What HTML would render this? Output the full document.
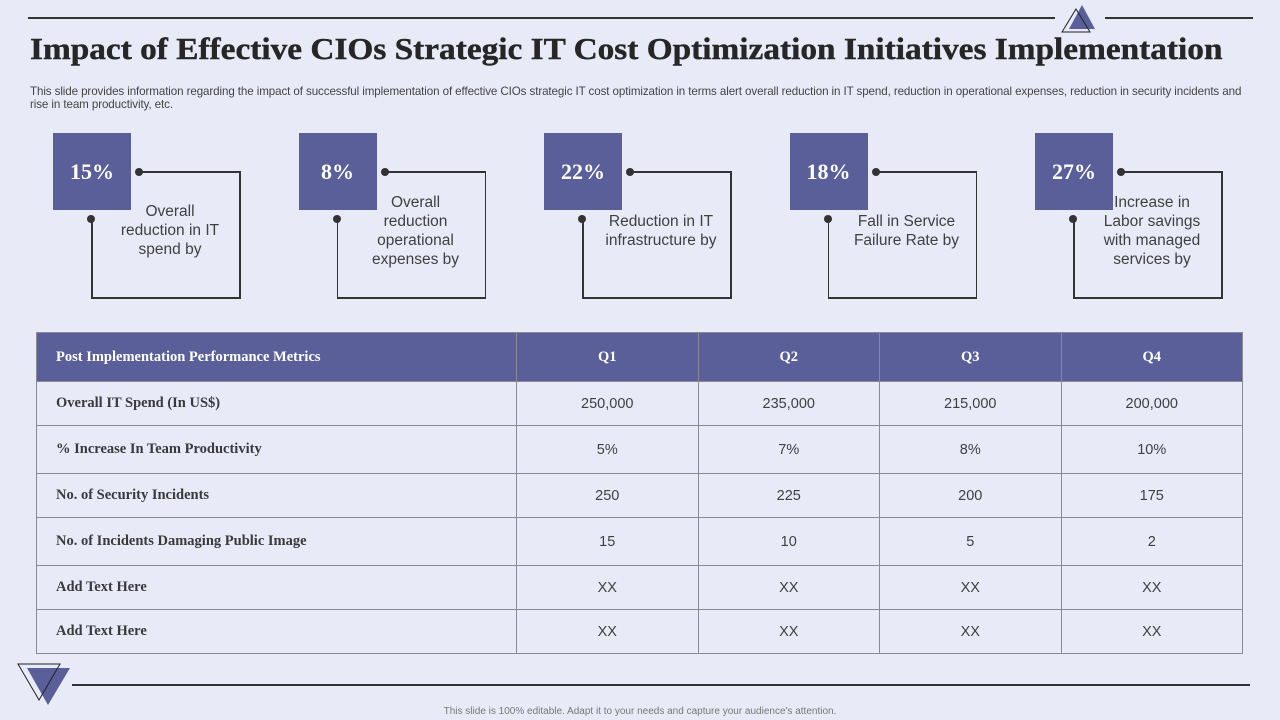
<!DOCTYPE html>
<html><head><meta charset="utf-8"><style>
body{margin:0;width:1280px;height:720px;background:#e8eaf7;position:relative;overflow:hidden;font-family:"Liberation Sans",sans-serif;}
.abs{position:absolute}
h1{position:absolute;left:30px;top:31px;margin:0;font-family:"Liberation Serif",serif;font-weight:bold;font-size:31px;color:#262626;white-space:nowrap;transform:scaleX(1.075);transform-origin:left top;-webkit-text-stroke:0.4px #262626}
.desc{position:absolute;left:30px;top:85px;width:1212px;font-size:11.6px;line-height:13px;color:#444;letter-spacing:-0.1px}
.sq{position:absolute;width:78px;height:77px;background:#5a5f9a;color:#fff;font-family:"Liberation Serif",serif;font-weight:bold;font-size:22px;display:flex;align-items:center;justify-content:center}
.vline{position:absolute;width:1.5px;background:#333}
.hline{position:absolute;height:1.5px;background:#333}
.dot{position:absolute;width:8px;height:8px;border-radius:50%;background:#333}
.lbl{position:absolute;width:120px;text-align:center;font-size:15.5px;line-height:19px;color:#404040}
table{position:absolute;left:36px;top:332px;border-collapse:collapse;width:1207px}
td,th{border:1px solid #8a8a95;font-size:14.5px;color:#404040;text-align:center;padding:0}
th{background:#5a5f9a;color:#fff;font-family:"Liberation Serif",serif;font-weight:bold;height:48px}
td:first-child,th:first-child{text-align:left;padding-left:19px;font-family:"Liberation Serif",serif;font-weight:bold}
td:first-child{color:#3a3a3a}
</style></head><body>
<div class="abs" style="left:28px;top:17px;width:1027px;height:1.5px;background:#333"></div>
<div class="abs" style="left:1105px;top:17px;width:148px;height:1.5px;background:#333"></div>
<svg class="abs" style="left:1060px;top:3px" width="44" height="30"><polygon points="22,2 35,26 9,26" fill="#5a5f9a"/><polygon points="16,6 30,29 2,29" fill="none" stroke="#222" stroke-width="1"/></svg>
<h1>Impact of Effective CIOs Strategic IT Cost Optimization Initiatives Implementation</h1>
<div class="desc">This slide provides information regarding the impact of successful implementation of effective CIOs strategic IT cost optimization in terms alert overall reduction in IT spend, reduction in operational expenses, reduction in security incidents and rise in team productivity, etc.</div>
<div id="cards"></div>
<table>
<tr style="height:49px"><th style="width:460px">Post Implementation Performance Metrics</th><th>Q1</th><th>Q2</th><th>Q3</th><th>Q4</th></tr>
<tr style="height:44px"><td>Overall IT Spend (In US$)</td><td>250,000</td><td>235,000</td><td>215,000</td><td>200,000</td></tr>
<tr style="height:48px"><td>% Increase In Team Productivity</td><td>5%</td><td>7%</td><td>8%</td><td>10%</td></tr>
<tr style="height:44px"><td>No. of Security Incidents</td><td>250</td><td>225</td><td>200</td><td>175</td></tr>
<tr style="height:48px"><td>No. of Incidents Damaging Public Image</td><td>15</td><td>10</td><td>5</td><td>2</td></tr>
<tr style="height:44px"><td>Add Text Here</td><td>XX</td><td>XX</td><td>XX</td><td>XX</td></tr>
<tr style="height:44px"><td>Add Text Here</td><td>XX</td><td>XX</td><td>XX</td><td>XX</td></tr>
</table>
<svg class="abs" style="left:14px;top:660px" width="60" height="46"><polygon points="13,8 56,8 34,45" fill="#5a5f9a"/><polygon points="4,4 46,4 25,40" fill="none" stroke="#222" stroke-width="1"/></svg>
<div class="abs" style="left:72px;top:684px;width:1178px;height:1.5px;background:#333"></div>
<div class="abs" style="left:0;width:1280px;top:706px;text-align:center;font-size:10px;color:#777">This slide is 100% editable. Adapt it to your needs and capture your audience's attention.</div>
<script>
const pcts=["15%","8%","22%","18%","27%"];
const labels=["Overall<br>reduction in IT<br>spend by","Overall<br>reduction<br>operational<br>expenses by","Reduction in IT<br>infrastructure  by","Fall in Service<br>Failure Rate by","Increase in<br>Labor savings<br>with managed<br>services by"];
const labelTops=[202,193,212,212,193];
const c=document.getElementById('cards');
pcts.forEach((p,i)=>{
  const x=53+i*245.5;
  const g=document.createElement('div');
  
  
  g.innerHTML=
   `<div class="hline" style="left:${x+86}px;top:171px;width:100px"></div>`+
   `<div class="vline" style="left:${x+186}px;top:171px;height:128px"></div>`+
   `<div class="hline" style="left:${x+38}px;top:297px;width:149px"></div>`+
   `<div class="vline" style="left:${x+38}px;top:219px;height:79px"></div>`+
   `<div class="dot" style="left:${x+82}px;top:168px"></div>`+
   `<div class="dot" style="left:${x+34}px;top:215px"></div>`+
   `<div class="sq" style="left:${x}px;top:133px">${p}</div>`+
   `<div class="lbl" style="left:${x+57}px;top:${labelTops[i]}px">${labels[i]}</div>`;
  c.appendChild(g);
});
</script>
</body></html>
